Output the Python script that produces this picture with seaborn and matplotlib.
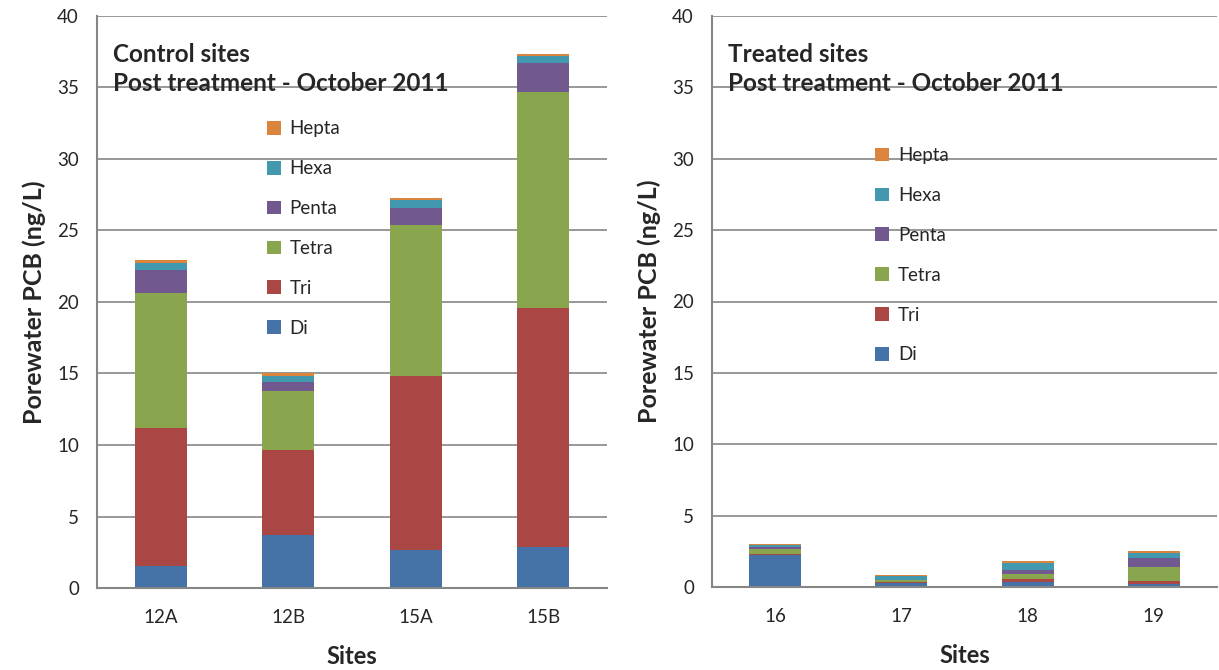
import numpy as np
import seaborn as sns
import matplotlib.pyplot as plt

# Homologue groups, bottom to top
groups = ["Di", "Tri", "Tetra", "Penta", "Hexa", "Hepta"]
colors = ["#4572A7", "#AA4643", "#89A54E", "#71588F", "#4198AF", "#DB843D"]

control_sites = ["12A", "12B", "15A", "15B"]
control_di = [1.55, 3.7, 2.65, 2.9]
control_tri = [9.65, 5.95, 12.15, 16.7]
control_tetra = [9.45, 4.15, 10.6, 15.1]
control_penta = [1.6, 0.6, 1.2, 2.0]
control_hexa = [0.5, 0.4, 0.5, 0.5]
control_hepta = [0.2, 0.2, 0.2, 0.15]

treated_sites = ["16", "17", "18", "19"]
treated_di = [2.22, 0.30, 0.33, 0.23]
treated_tri = [0.09, 0.05, 0.23, 0.21]
treated_tetra = [0.35, 0.12, 0.35, 0.94]
treated_penta = [0.17, 0.05, 0.30, 0.68]
treated_hexa = [0.11, 0.25, 0.50, 0.35]
treated_hepta = [0.05, 0.05, 0.11, 0.11]

control = [control_di, control_tri, control_tetra, control_penta, control_hexa, control_hepta]
treated = [treated_di, treated_tri, treated_tetra, treated_penta, treated_hexa, treated_hepta]

sns.set_style("white")
plt.rcParams['font.family'] = ['Lato', 'DejaVu Sans']

fig = plt.figure(figsize=(12.19, 6.70), dpi=100)
ax1 = fig.add_axes([97 / 1219, 1 - 588 / 670, 510 / 1219, 572 / 670])
ax2 = fig.add_axes([712 / 1219, 1 - 587 / 670, 505 / 1219, 571 / 670])

grid_col = "#868686"


def stacked(ax, sites, parts, title, leg_xy):
    bottom = np.zeros(len(sites))
    for name, vals, col in zip(groups, parts, colors):
        sns.barplot(x=sites, y=vals, bottom=bottom, color=col, width=0.41,
                    label=name, errorbar=None, ax=ax, saturation=1,
                    edgecolor="none", linewidth=0)
        bottom = bottom + np.array(vals)
    ax.set_ylim(0, 40)
    ax.set_yticks(range(0, 41, 5))
    ax.yaxis.grid(True, color=grid_col, linewidth=1.2)
    ax.set_axisbelow(True)
    for s in ["top", "right"]:
        ax.spines[s].set_visible(False)
    for s in ["left", "bottom"]:
        ax.spines[s].set_color(grid_col)
        ax.spines[s].set_linewidth(1.5)
    ax.tick_params(axis="y", length=5, color=grid_col, labelsize=13.5, pad=8)
    ax.tick_params(axis="x", length=0, labelsize=13.5, pad=15)
    ax.set_ylabel("Porewater PCB (ng/L)", fontsize=18, fontweight="bold", labelpad=8)
    ax.set_xlabel("Sites", fontsize=17, fontweight="bold", labelpad=14)
    ax.text(0.032, 0.952, title, transform=ax.transAxes, fontsize=17.5,
            fontweight="bold", va="top", linespacing=1.3)
    h, l = ax.get_legend_handles_labels()
    ax.legend(h[::-1], l[::-1], loc="upper left", bbox_to_anchor=leg_xy,
              frameon=False, fontsize=13.5, handlelength=0.75, handleheight=0.75,
              labelspacing=1.22, handletextpad=0.45)


stacked(ax1, control_sites, control, "Control sites\nPost treatment - October 2011",
        (0.3, 0.847))
stacked(ax2, treated_sites, treated, "Treated sites\nPost treatment - October 2011",
        (0.29, 0.8))

fig.savefig("out.png", dpi=100)
